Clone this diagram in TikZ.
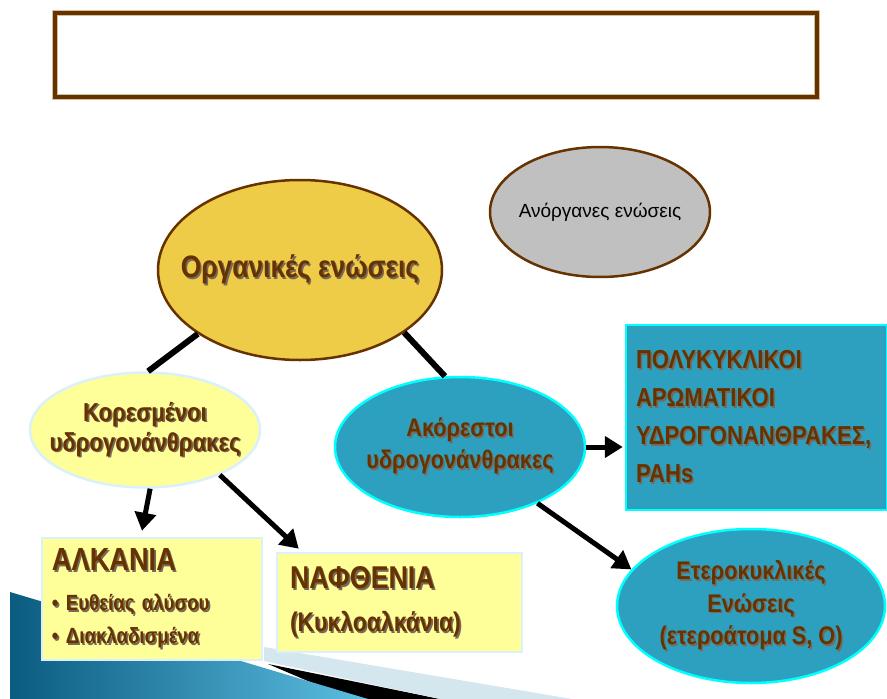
\documentclass[tikz,border=0pt]{standalone}
\usepackage{fontspec}
\setmainfont{Liberation Sans}
\newfontfamily\condfont[FakeStretch=0.85]{Liberation Sans}
\usepackage{tikz}
\usetikzlibrary{shapes.geometric,positioning,arrows.meta}

\definecolor{brownc}{RGB}{102,51,0}
\definecolor{tanc}{RGB}{214,190,160}
\definecolor{goldc}{RGB}{238,204,72}
\definecolor{greyc}{RGB}{192,192,192}
\definecolor{paleyel}{RGB}{255,255,153}
\definecolor{paleblue}{RGB}{218,240,250}
\definecolor{tealc}{RGB}{44,160,190}
\definecolor{cyanc}{RGB}{0,255,255}
\definecolor{shadowc}{RGB}{60,40,20}
\definecolor{deepblue}{RGB}{10,92,128}
\definecolor{lightblue}{RGB}{92,190,226}
\definecolor{bandc}{RGB}{212,230,238}

% text with a small drop shadow
\newcommand\shtxt[1]{\makebox[0pt][l]{\raisebox{-1.6pt}{\hspace{1.6pt}\textcolor{shadowc!70}{#1}}}\mbox{#1}}
\newcommand\fsz[2]{\fontsize{#1}{#2}\selectfont}

\begin{document}
\begin{tikzpicture}[x=1pt,y=-1pt,on grid,
    oval/.style={ellipse,line width=2.5pt,inner xsep=-30pt,inner ysep=0pt,align=center,text=brownc},
    box/.style={rectangle,line width=2.5pt,inner sep=0pt,align=left,text=brownc},
    titlebox/.style={rectangle,draw=brownc,line width=3.5pt,
      preaction={draw=tanc,line width=6.5pt},minimum width=762,minimum height=84},
    link/.style={line width=6pt},
    arr/.style={-{Triangle[length=18pt,width=21pt]},line width=5pt}]

    \useasboundingbox (0,0) rectangle (887,699);

    % slide decoration, bottom left
    \fill[black] (268,664) -- (440,699) -- (350,699) -- cycle;
    \fill[bandc] (264,647) -- (572,699) -- (440,699) -- (264,661) -- cycle;
    \shade[left color=deepblue,right color=lightblue]
    (10,592) -- (368,699) -- (10,699) -- cycle;

    \node[titlebox] (title) at (436,55) {};

    \node[oval,fill=goldc,draw=brownc,minimum width=284,minimum height=180,
    font=\condfont\bfseries\fsz{31}{34}] (org) at (300,270)
    {\shtxt{Οργανικές ενώσεις}};
    \node[oval,fill=greyc,draw=brownc,minimum width=220,minimum height=130,text=black,
    font=\rmfamily\fsz{19}{22}]
    (inorg) [above=58pt of org, xshift=300pt] {Ανόργανες ενώσεις};

    \node[oval,fill=paleyel,draw=paleblue,minimum width=230,minimum height=115,
    font=\condfont\bfseries\fsz{26}{30}]
    (sat) [below=160pt of org, xshift=-155pt]
    {\shtxt{Κορεσμένοι}\\\shtxt{υδρογονάνθρακες}};
    \node[oval,fill=tealc,draw=cyanc,minimum width=250,minimum height=140,
    font=\condfont\bfseries\fsz{25.5}{32}]
    (unsat) [below=177pt of org, xshift=160pt]
    {\shtxt{Ακόρεστοι}\\\shtxt{υδρογονάνθρακες}};

    \node[box,fill=tealc,draw=cyanc,minimum width=261,minimum height=185,text width=241,
    font=\condfont\bfseries\fsz{26}{38}]
    (pah) [right=296.5pt of unsat, yshift=29.5pt]
    {\shtxt{ΠΟΛΥΚΥΚΛΙΚΟΙ}\\\shtxt{ΑΡΩΜΑΤΙΚΟΙ}\\
      \shtxt{ΥΔΡΟΓΟΝΑΝΘΡΑΚΕΣ,}\\\shtxt{PAHs}};
    \node[oval,fill=tealc,draw=cyanc,minimum width=268,minimum height=154,
    font=\condfont\bfseries\fsz{25.5}{32.5}]
    (het) [below=159pt of unsat, xshift=291pt]
    {\shtxt{Ετεροκυκλικές}\\\shtxt{Ενώσεις}\\\shtxt{(ετεροάτομα S, O)}};

    \node[box,fill=paleyel,draw=paleblue,minimum width=220,minimum height=122,text width=200,
    font=\condfont\bfseries\fsz{22}{33}]
    (alk) [below=169pt of sat, xshift=7pt]
    {{\fsz{32}{32}\shtxt{ΑΛΚΑΝΙΑ}}\\[7pt]
      \shtxt{• Ευθείας αλύσου}\\\shtxt{• Διακλαδισμένα}};
    \node[box,fill=paleyel,draw=paleblue,minimum width=245,minimum height=99,text width=219,
    font=\condfont\bfseries\fsz{27}{30}]
    (naft) [below=172.5pt of sat, xshift=254.5pt]
    {{\fsz{31.5}{32}\shtxt{ΝΑΦΘΕΝΙΑ}}\\[13pt]
      \shtxt{(Κυκλοαλκάνια)}};

    \path[link]
    (org.212) edge (sat.87)
    (org.-31) edge (unsat.102);

    \path[arr]
    (sat.-85) edge ([xshift=-10pt,yshift=6pt]alk.north)
    (sat.-31) edge ([xshift=23pt,yshift=3pt]naft.north west)
    (unsat.east) edge[shorten >=2pt] (unsat.east -| pah.west)
    (unsat.-36) edge (het.163);
  \end{tikzpicture}
\end{document}
